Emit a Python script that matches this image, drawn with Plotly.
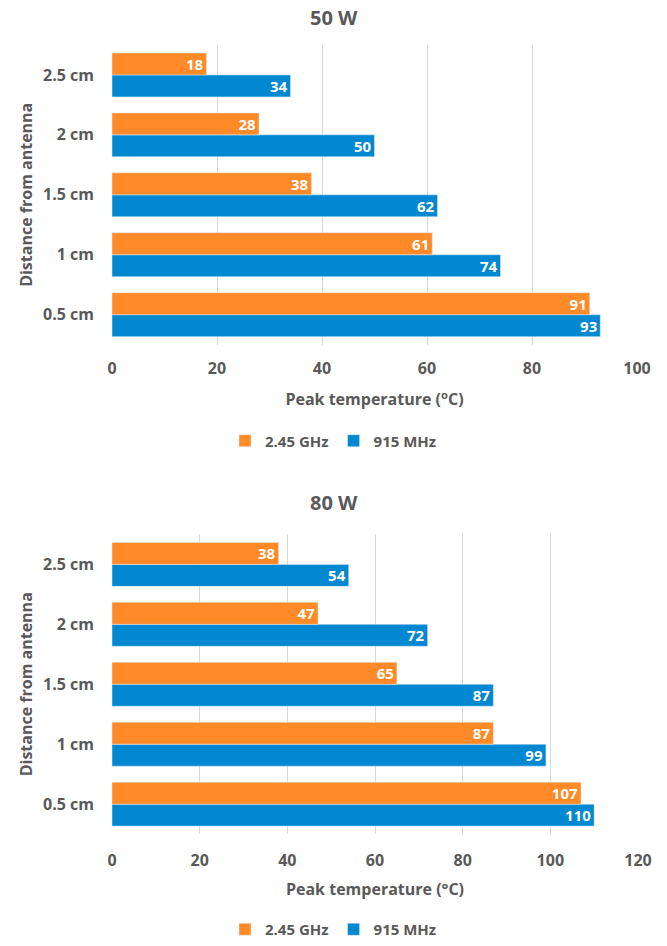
import plotly.graph_objects as go

categories = ["0.5 cm", "1 cm", "1.5 cm", "2 cm", "2.5 cm"]
w50_245 = [91, 61, 38, 28, 18]
w50_915 = [93, 74, 62, 50, 34]
w80_245 = [107, 87, 65, 47, 38]
w80_915 = [110, 99, 87, 72, 54]
series_names = ["2.45 GHz", "915 MHz"]
titles = ["50 W", "80 W"]
x_titles = ["Peak temperature (<sup>o</sup>C)", "Peak temperature (°C)"]
y_title = "Distance from antenna"

ORANGE = "#FF8A27"
BLUE = "#0288D1"
GRAY = "#595959"
FONT = "Open Sans"
H = 946
W = 667


def px_y(p):
    return 1 - p / H


def bold(size):
    return dict(size=size, color=GRAY, family=FONT, weight="bold")


fig = go.Figure()

panels = [
    dict(xa="x", ya="y", leg="legend", v245=w50_245, v915=w50_915),
    dict(xa="x2", ya="y2", leg="legend2", v245=w80_245, v915=w80_915),
]
for p in panels:
    fig.add_trace(go.Bar(
        y=categories, x=p["v915"], orientation="h", name=series_names[1],
        marker_color=BLUE, text=p["v915"], textposition="inside", textangle=0,
        constraintext="none", insidetextanchor="end",
        textfont=dict(color="white", size=15, family=FONT, weight="bold"),
        xaxis=p["xa"], yaxis=p["ya"], legend=p["leg"], legendrank=2, hoverinfo="skip",
    ))
    fig.add_trace(go.Bar(
        y=categories, x=p["v245"], orientation="h", name=series_names[0],
        marker_color=ORANGE, text=p["v245"], textposition="inside", textangle=0,
        constraintext="none", insidetextanchor="end",
        textfont=dict(color="white", size=15, family=FONT, weight="bold"),
        xaxis=p["xa"], yaxis=p["ya"], legend=p["leg"], legendrank=1, hoverinfo="skip",
    ))

x_common = dict(
    showgrid=True, gridcolor="#D9D9D9", gridwidth=1, zeroline=False,
    showline=False, ticks="", tickfont=bold(16), automargin=False,
)
y_common = dict(
    showgrid=False, zeroline=False, showline=False, ticks="", automargin=False,
    tickfont=bold(16), ticklabelstandoff=17, categoryorder="array", categoryarray=categories,
    title=dict(text=y_title, font=bold(16), standoff=6),
)

fig.update_layout(
    width=W, height=H, margin=dict(l=0, r=0, t=0, b=0),
    paper_bgcolor="white", plot_bgcolor="white",
    barmode="group", bargap=0.267, bargroupgap=0,
    font=dict(family=FONT, color=GRAY),
    xaxis=dict(domain=[112 / W, 637 / W], anchor="y", range=[0, 100], dtick=20,
               ticklabelstandoff=12,
               title=dict(text=x_titles[0], font=bold(16), standoff=16), **x_common),
    yaxis=dict(domain=[px_y(345), px_y(45)], anchor="x", **y_common),
    xaxis2=dict(domain=[112 / W, 638 / W], anchor="y2", range=[0, 120], dtick=20,
                ticklabelstandoff=15,
                title=dict(text=x_titles[1], font=bold(16), standoff=13), **x_common),
    yaxis2=dict(domain=[px_y(835), px_y(535)], anchor="x2", **y_common),
    legend=dict(orientation="h", x=0.5, xanchor="center", y=px_y(441), yanchor="middle",
                font=bold(15), itemwidth=30, traceorder="normal"),
    legend2=dict(orientation="h", x=0.5, xanchor="center", y=px_y(930), yanchor="middle",
                 font=bold(15), itemwidth=30, traceorder="normal"),
    annotations=[
        dict(text=titles[0], x=0.5, xref="paper", y=px_y(18), yref="paper", showarrow=False,
             font=bold(20), yanchor="middle"),
        dict(text=titles[1], x=0.5, xref="paper", y=px_y(503), yref="paper", showarrow=False,
             font=bold(20), yanchor="middle"),
    ],
)

fig.write_html("out.html", config={"displayModeBar": False},
               post_script="document.body.style.margin='0';")
